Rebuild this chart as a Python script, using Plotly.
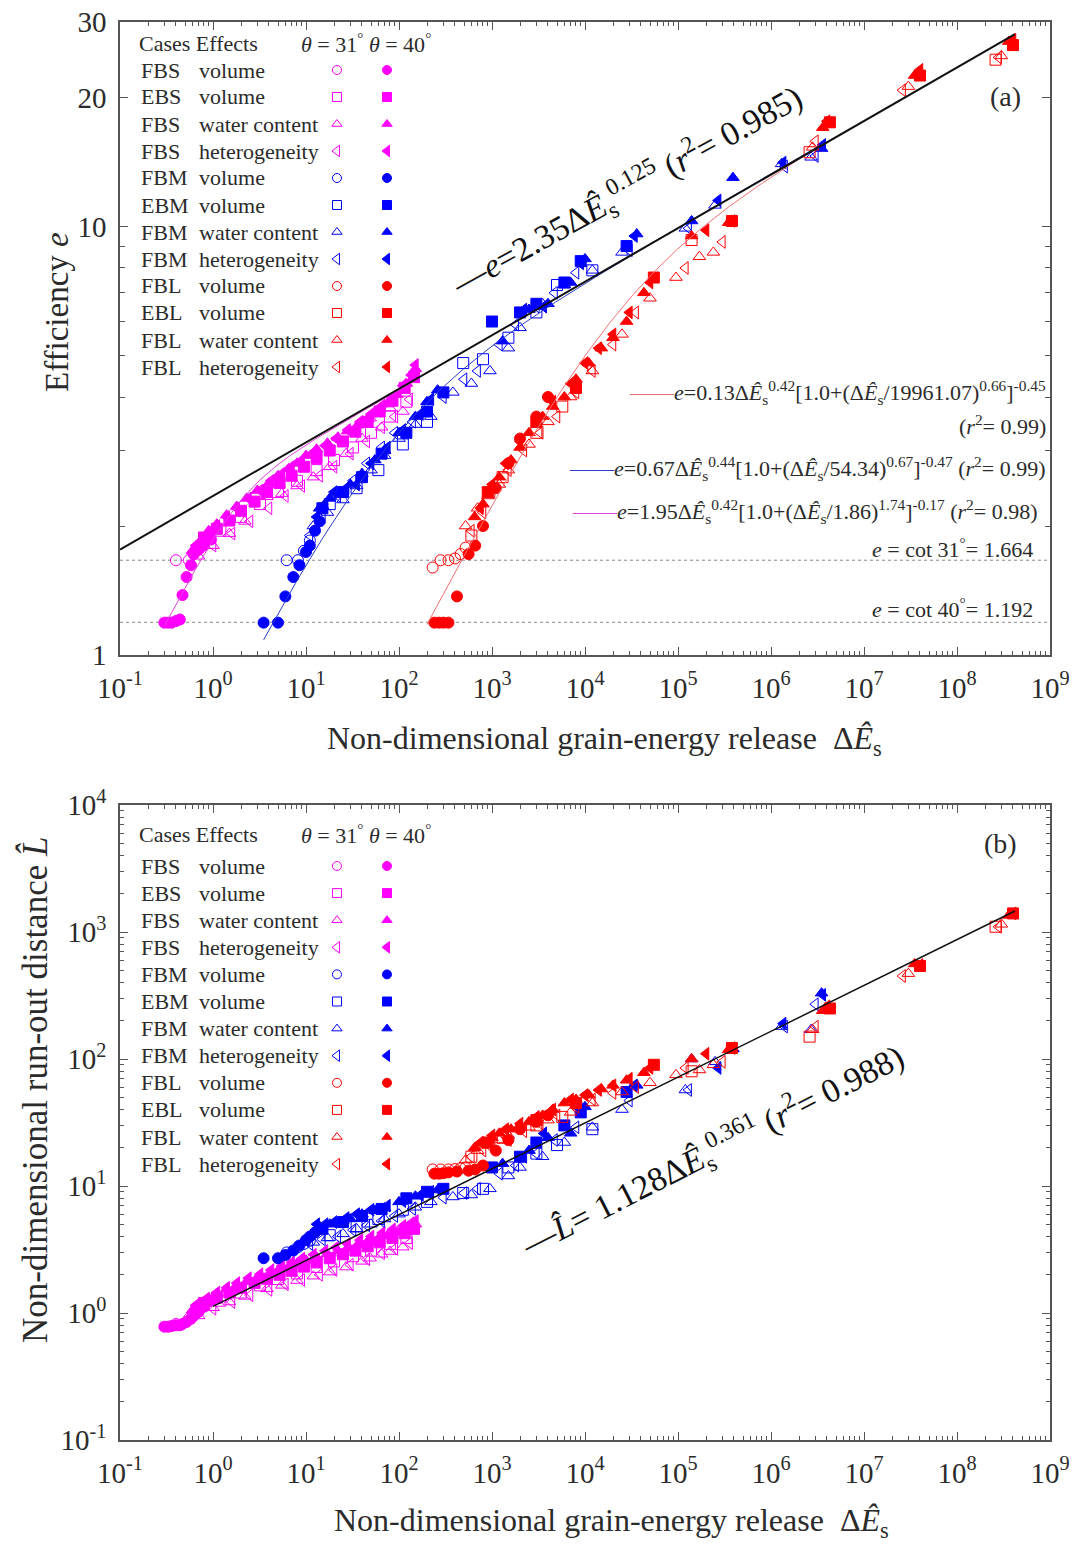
import numpy as np
import plotly.graph_objects as go

W, H = 1076, 1553

# ---------------- DATA ----------------
# x = non-dimensional grain-energy release, e = efficiency (panel a), L = run-out (panel b)
# Magenta: FBS / EBS
S_vol31_x = [0.40, 0.55, 0.62, 0.70, 0.85]
S_vol31_e = [1.664, 1.664, 1.72, 1.80, 1.88]
S_vol31_L = [0.82, 0.90, 0.95, 1.05, 1.15]
S_vol40_x = [0.30, 0.33, 0.36, 0.40, 0.44, 0.47, 0.52, 0.58, 0.62, 0.70, 0.80, 0.95]
S_vol40_e = [1.19, 1.19, 1.19, 1.20, 1.21, 1.38, 1.52, 1.62, 1.72, 1.76, 1.80, 1.86]
S_vol40_L = [0.78, 0.78, 0.79, 0.80, 0.80, 0.82, 0.85, 0.90, 0.95, 1.02, 1.12, 1.25]
S_ebs31_x = [1.2, 2.0, 3.2, 5, 8, 13, 20, 32, 50, 80, 120]
S_ebs31_e = [1.95, 2.10, 2.25, 2.40, 2.55, 2.70, 2.85, 3.05, 3.30, 3.60, 3.90]
S_ebs31_L = [1.25, 1.45, 1.65, 1.85, 2.05, 2.30, 2.55, 2.80, 3.10, 3.50, 3.90]
S_ebs40_x = [0.8, 1.1, 1.5, 2.0, 2.8, 3.8, 5.2, 7, 9.5, 13, 18, 25, 34, 46, 62, 85, 115, 145]
S_ebs40_e = [1.88, 1.97, 2.06, 2.17, 2.28, 2.40, 2.52, 2.62, 2.75, 2.88, 3.00, 3.15, 3.32, 3.50, 3.70, 3.92, 4.20, 4.45]
S_ebs40_L = [1.20, 1.32, 1.45, 1.58, 1.72, 1.86, 2.00, 2.15, 2.32, 2.50, 2.70, 2.90, 3.10, 3.35, 3.60, 3.90, 4.25, 4.60]
S_wat31_x = [0.7, 1.0, 1.5, 2.2, 3.8, 5.5, 8, 12, 18, 27, 40, 49, 65, 80, 110]
S_wat31_e = [1.70, 1.80, 1.92, 2.05, 2.34, 2.38, 2.48, 2.60, 2.75, 2.95, 3.20, 3.57, 3.40, 3.77, 3.70]
S_wat31_L = [0.95, 1.10, 1.22, 1.35, 1.55, 1.65, 1.80, 1.95, 2.10, 2.30, 2.55, 2.70, 2.90, 3.05, 3.30]
S_wat40_x = [0.6, 0.75, 0.9, 1.1, 1.4, 1.8, 2.3, 3, 4, 5, 6.5, 8, 10, 13, 17, 22, 28, 36, 46, 60, 75, 95, 120, 150]
S_wat40_e = [1.75, 1.86, 1.95, 2.02, 2.12, 2.22, 2.32, 2.42, 2.52, 2.62, 2.72, 2.80, 2.92, 3.02,
             3.12, 3.22, 3.33, 3.44, 3.56, 3.70, 3.85, 4.05, 4.30, 4.65]
S_wat40_L = [1.05, 1.18, 1.30, 1.42, 1.55, 1.66, 1.77, 1.90, 2.02, 2.15, 2.30, 2.45, 2.60, 2.75,
             2.92, 3.08, 3.25, 3.45, 3.65, 3.85, 4.05, 4.35, 4.65, 5.00]
S_het31_x = [1.0, 1.6, 2.5, 4, 6, 9, 14, 20, 30, 45, 65, 90, 130]
S_het31_e = [1.80, 1.92, 2.05, 2.20, 2.35, 2.48, 2.62, 2.75, 2.95, 3.15, 3.40, 3.60, 3.95]
S_het31_L = [1.08, 1.22, 1.38, 1.52, 1.68, 1.82, 2.00, 2.18, 2.40, 2.65, 2.95, 3.20, 3.55]
S_het40_x = [0.65, 0.85, 1.1, 1.4, 1.8, 2.4, 3.2, 4.2, 5.5, 7, 9, 12, 16, 21, 28, 38, 50, 66, 85, 110, 135, 150]
S_het40_e = [1.80, 1.90, 2.00, 2.10, 2.20, 2.32, 2.42, 2.55, 2.65, 2.75, 2.85, 2.97, 3.08, 3.20,
             3.35, 3.50, 3.65, 3.82, 4.00, 4.25, 4.50, 4.75]
S_het40_L = [1.15, 1.30, 1.45, 1.58, 1.72, 1.88, 2.02, 2.18, 2.35, 2.50, 2.68, 2.88, 3.08, 3.28,
             3.50, 3.75, 4.00, 4.28, 4.55, 4.85, 5.10, 5.30]

# Blue: FBM / EBM
M_vol31_x = [6.2, 8.2, 9.5, 11]
M_vol31_e = [1.664, 1.664, 1.75, 1.85]
M_vol31_L = [3.0, 3.3, 3.5, 3.7]
M_vol40_x = [3.5, 5.0, 6.0, 7.3, 8.5, 10, 11, 12.5, 14]
M_vol40_e = [1.19, 1.19, 1.37, 1.52, 1.62, 1.74, 1.80, 1.95, 2.05]
M_vol40_L = [2.70, 2.70, 2.86, 3.10, 3.40, 3.75, 4.00, 4.30, 4.60]
M_ebm31_x = [18, 35, 60, 110, 200, 490, 800, 1500, 3000, 5000, 12000]
M_ebm31_e = [2.25, 2.45, 2.70, 3.10, 3.50, 4.80, 4.90, 5.50, 6.30, 7.30, 7.90]
M_ebm31_L = [4.1, 4.8, 5.5, 6.5, 7.5, 8.8, 9.5, 14, 18, 21, 28]
M_ebm40_x = [15, 25, 40, 65, 120, 200, 300, 1000, 2000, 3000, 6000, 9000, 28000]
M_ebm40_e = [2.20, 2.40, 2.60, 2.95, 3.30, 3.70, 4.10, 6.00, 6.30, 6.60, 7.40, 8.30, 9.00]
M_ebm40_L = [4.6, 5.2, 5.8, 6.6, 8.0, 9.0, 9.5, 14, 17, 22, 30, 38, 55]
M_wat31_x = [12, 17, 25, 35, 50, 70, 100, 150, 220, 380, 600, 950, 1500, 2000, 3500, 6000,
             12000, 25000, 120000, 250000, 1.3e6, 2.7e6]
M_wat31_e = [2.00, 2.15, 2.30, 2.48, 2.70, 2.92, 3.20, 3.45, 3.60, 4.10, 4.30, 4.60, 5.20, 5.80,
             6.60, 7.30, 7.90, 8.70, 9.90, 11.2, 14.0, 14.5]
M_wat31_L = [3.6, 3.9, 4.2, 4.6, 5.0, 5.5, 6.0, 6.8, 7.5, 8.2, 8.5, 9.5, 12, 14, 17, 22, 29, 40,
             57, 95, 180, 170]
M_wat40_x = [14, 18, 24, 30, 40, 55, 70, 100, 150, 200, 260, 1300, 2500, 4000, 7000, 10000,
             36000, 140000, 390000, 3.5e6]
M_wat40_e = [2.20, 2.32, 2.40, 2.50, 2.65, 2.85, 3.00, 3.30, 3.60, 3.90, 4.15, 5.40, 6.40, 6.60,
             7.40, 8.40, 9.60, 10.3, 13.0, 15.2]
M_wat40_L = [4.8, 5.0, 5.2, 5.5, 6.0, 6.4, 6.7, 7.5, 8.3, 8.9, 9.3, 15, 19, 24, 26, 42, 62, 100,
             120, 330]
M_het31_x = [11, 15, 22, 32, 45, 65, 90, 140, 300, 500, 700, 1200, 1800, 3000, 4700, 8000,
             30000, 130000, 1.4e6, 3.0e6]
M_het31_e = [1.90, 2.10, 2.35, 2.55, 2.80, 3.05, 3.30, 3.50, 4.00, 4.40, 4.60, 5.30, 5.90, 6.50,
             7.00, 7.80, 8.80, 9.90, 13.8, 14.6]
M_het31_L = [3.5, 3.8, 4.0, 4.5, 4.9, 5.3, 5.8, 6.6, 8.1, 8.8, 9.5, 12.5, 14.5, 18, 23, 29, 47,
             57, 180, 270]
M_het40_x = [13, 16, 20, 27, 35, 50, 75, 110, 170, 220, 2200, 3600, 9000, 34000, 270000, 1.35e6, 3.6e6]
M_het40_e = [2.10, 2.25, 2.40, 2.45, 2.50, 2.80, 3.05, 3.35, 3.65, 3.95, 6.40, 6.50, 8.20, 9.50,
             11.5, 14.1, 15.5]
M_het40_L = [5.0, 5.0, 5.2, 5.6, 6.0, 6.5, 7.0, 7.6, 8.5, 9.0, 17, 26, 40, 62, 85, 190, 320]

# Red: FBL / EBL
L_vol31_x = [230, 280, 340, 400, 460, 520]
L_vol31_e = [1.60, 1.664, 1.664, 1.68, 1.72, 1.78]
L_vol31_L = [13.5, 13.5, 13.5, 13.6, 13.8, 14.0]
L_vol40_x = [240, 270, 300, 340, 420, 560, 660, 800, 1100, 1500, 2000, 3000, 4000]
L_vol40_e = [1.19, 1.19, 1.19, 1.19, 1.37, 1.72, 1.80, 2.00, 2.45, 2.80, 3.20, 3.60, 4.00]
L_vol40_L = [12.5, 12.5, 12.6, 12.8, 13.0, 13.2, 13.5, 14.5, 19, 23, 28, 32, 36]
L_ebl31_x = [600, 1300, 3000, 5700, 140000, 2.6e6, 2.6e8]
L_ebl31_e = [1.90, 2.60, 3.30, 3.80, 9.30, 14.9, 24.5]
L_ebl31_L = [17, 24, 30, 35, 80, 150, 1100]
L_ebl40_x = [900, 3000, 8000, 55000, 380000, 4.3e6, 4.0e7, 4.0e8]
L_ebl40_e = [2.40, 3.50, 4.20, 7.60, 10.3, 17.5, 22.5, 26.5]
L_ebl40_L = [22, 33, 45, 90, 122, 250, 540, 1400]
L_wat31_x = [520, 700, 900, 1200, 1500, 2500, 4000, 7000, 12000, 25000, 50000, 95000, 170000,
             240000, 2.8e6, 3.0e7, 3.0e8]
L_wat31_e = [2.00, 2.20, 2.35, 2.50, 2.70, 3.10, 3.50, 4.00, 4.60, 5.60, 6.80, 7.60, 8.50, 8.70,
             15.3, 21.2, 25.0]
L_wat31_L = [16, 19, 21, 23, 25, 29, 33, 38, 45, 55, 65, 75, 82, 90, 170, 470, 1150]
L_wat40_x = [650, 800, 1000, 1200, 1600, 2000, 2500, 3500, 4500, 6000, 8000, 11000, 15000,
             20000, 28000, 43000, 140000, 350000, 3.6e6, 3.5e7, 3.6e8]
L_wat40_e = [2.10, 2.25, 2.45, 2.60, 2.85, 3.05, 3.30, 3.60, 3.80, 4.00, 4.40, 4.80, 5.20, 5.50,
             6.00, 7.00, 9.50, 10.2, 17.0, 22.5, 27.0]
L_wat40_L = [20, 22, 24, 26, 28, 30, 32, 36, 40, 45, 48, 52, 58, 62, 68, 78, 100, 118, 240, 560, 1350]
L_het31_x = [600, 800, 1000, 1500, 2200, 3300, 5000, 8000, 12000, 20000, 35000, 120000, 300000,
             3.0e6, 2.6e7, 2.8e8]
L_het31_e = [1.95, 2.15, 2.40, 2.70, 3.00, 3.30, 3.60, 4.10, 4.60, 5.30, 6.30, 8.00, 9.20, 15.8,
             20.8, 24.8]
L_het31_L = [17, 19, 20, 23, 27, 31, 36, 42, 48, 54, 60, 85, 95, 180, 450, 1100]
L_het40_x = [750, 1000, 1400, 2000, 3000, 4500, 7000, 10000, 14000, 20000, 30000, 50000, 200000,
             380000, 4.0e6, 4.0e7, 4.0e8]
L_het40_e = [2.20, 2.50, 2.80, 3.15, 3.50, 3.90, 4.30, 4.80, 5.20, 5.60, 6.30, 7.40, 9.80, 10.3,
             17.6, 23.2, 27.3]
L_het40_L = [22, 25, 28, 31, 35, 40, 48, 52, 57, 62, 70, 85, 110, 122, 260, 550, 1400]

# Legend table
cases = ["FBS", "EBS", "FBS", "FBS", "FBM", "EBM", "FBM", "FBM", "FBL", "EBL", "FBL", "FBL"]
effects = ["volume", "volume", "water content", "heterogeneity"] * 3
row_colors = ["#FF00FF"] * 4 + ["#0000FF"] * 4 + ["#FF0000"] * 4
row_symbols = ["circle", "square", "triangle-up", "triangle-left"] * 3

# Fits
fit_a = (2.35, 0.125)          # e = a*E^b
fit_b = (1.128, 0.361)         # L = a*E^b
fit_S = (1.95, 0.42, 1.86, 1.74, -0.17)
fit_M = (0.67, 0.44, 54.34, 0.67, -0.47)
fit_L = (0.13, 0.42, 19961.07, 0.66, -0.45)
fit_S_range = (0.3, 150)
fit_M_range = (3.5, 3.6e6)
fit_L_range = (200, 4.0e6)
fit_a_range = (0.1, 4.2e8)
fit_b_range = (1.0, 4.2e8)
cot31, cot40 = 1.664, 1.192
x_axis_range = (0.1, 1e9)

# ---------------- FIGURE ----------------
MAG, BLU, RED = "#FF00FF", "#0000FF", "#FF0000"
series = [
    (MAG, "circle", S_vol31_x, S_vol31_e, S_vol31_L, True),
    (MAG, "circle", S_vol40_x, S_vol40_e, S_vol40_L, False),
    (MAG, "square", S_ebs31_x, S_ebs31_e, S_ebs31_L, True),
    (MAG, "square", S_ebs40_x, S_ebs40_e, S_ebs40_L, False),
    (MAG, "triangle-up", S_wat31_x, S_wat31_e, S_wat31_L, True),
    (MAG, "triangle-up", S_wat40_x, S_wat40_e, S_wat40_L, False),
    (MAG, "triangle-left", S_het31_x, S_het31_e, S_het31_L, True),
    (MAG, "triangle-left", S_het40_x, S_het40_e, S_het40_L, False),
    (BLU, "circle", M_vol31_x, M_vol31_e, M_vol31_L, True),
    (BLU, "circle", M_vol40_x, M_vol40_e, M_vol40_L, False),
    (BLU, "square", M_ebm31_x, M_ebm31_e, M_ebm31_L, True),
    (BLU, "square", M_ebm40_x, M_ebm40_e, M_ebm40_L, False),
    (BLU, "triangle-up", M_wat31_x, M_wat31_e, M_wat31_L, True),
    (BLU, "triangle-up", M_wat40_x, M_wat40_e, M_wat40_L, False),
    (BLU, "triangle-left", M_het31_x, M_het31_e, M_het31_L, True),
    (BLU, "triangle-left", M_het40_x, M_het40_e, M_het40_L, False),
    (RED, "circle", L_vol31_x, L_vol31_e, L_vol31_L, True),
    (RED, "circle", L_vol40_x, L_vol40_e, L_vol40_L, False),
    (RED, "square", L_ebl31_x, L_ebl31_e, L_ebl31_L, True),
    (RED, "square", L_ebl40_x, L_ebl40_e, L_ebl40_L, False),
    (RED, "triangle-up", L_wat31_x, L_wat31_e, L_wat31_L, True),
    (RED, "triangle-up", L_wat40_x, L_wat40_e, L_wat40_L, False),
    (RED, "triangle-left", L_het31_x, L_het31_e, L_het31_L, True),
    (RED, "triangle-left", L_het40_x, L_het40_e, L_het40_L, False),
]

fig = go.Figure()

# dotted reference lines (panel a)
for cv in (cot31, cot40):
    fig.add_trace(go.Scatter(x=list(x_axis_range), y=[cv, cv], mode="lines",
                             line=dict(color="#8a8a8a", width=1, dash="dot"),
                             xaxis="x", yaxis="y", showlegend=False, hoverinfo="skip"))

for col, sym, xs, es, Ls, is_open in series:
    mk = dict(symbol=sym + ("-open" if is_open else ""), size=11, color=col,
              line=dict(color=col, width=1))
    fig.add_trace(go.Scatter(x=xs, y=es, mode="markers", marker=mk,
                             xaxis="x", yaxis="y", showlegend=False))
    fig.add_trace(go.Scatter(x=xs, y=Ls, mode="markers", marker=mk,
                             xaxis="x2", yaxis="y2", showlegend=False))


def bpl(x, p):
    a, b, c, d, g = p
    return a * x ** b * (1.0 + (x / c) ** d) ** g


for p, rng, col in ((fit_S, fit_S_range, "#E040E0"), (fit_M, fit_M_range, "#2A3FC8"),
                    (fit_L, fit_L_range, "#F07070")):
    xx = np.logspace(np.log10(rng[0]), np.log10(rng[1]), 300)
    fig.add_trace(go.Scatter(x=xx, y=bpl(xx, p), mode="lines",
                             line=dict(color=col, width=1), xaxis="x", yaxis="y",
                             showlegend=False, hoverinfo="skip"))

xa = np.logspace(np.log10(fit_a_range[0]), np.log10(fit_a_range[1]), 50)
fig.add_trace(go.Scatter(x=xa, y=fit_a[0] * xa ** fit_a[1], mode="lines",
                         line=dict(color="#111", width=2), xaxis="x", yaxis="y",
                         showlegend=False))
xb = np.logspace(np.log10(fit_b_range[0]), np.log10(fit_b_range[1]), 50)
fig.add_trace(go.Scatter(x=xb, y=fit_b[0] * xb ** fit_b[1], mode="lines",
                         line=dict(color="#111", width=1.5), xaxis="x2", yaxis="y2",
                         showlegend=False))

# legend-table markers (overlay axes, row index as y)
for xaxis_id, yaxis_id in (("x3", "y3"), ("x4", "y4")):
    for i in range(len(cases)):
        for col_x, is_open in ((0.2333, True), (0.2871, False)):
            fig.add_trace(go.Scatter(
                x=[col_x], y=[i], mode="markers", xaxis=xaxis_id, yaxis=yaxis_id,
                marker=dict(symbol=row_symbols[i] + ("-open" if is_open else ""),
                            size=9 if row_symbols[i] != "triangle-left" else 10,
                            color=row_colors[i], line=dict(color=row_colors[i], width=1)),
                showlegend=False, hoverinfo="skip"))

FONT = "Liberation Serif"
TXT = "#2b2b2b"
xdom = [120 / W, 1050 / W]
ydom_a = [1 - 655 / H, 1 - 22 / H]
ydom_b = [1 - 1440 / H, 1 - 805 / H]

dec = [10.0 ** k for k in range(-1, 10)]
dec_txt = ["10<sup>%d</sup>" % k for k in range(-1, 10)]
minor_x = [m * 10.0 ** k for k in range(-1, 9) for m in range(2, 10)]
minor_yb = [m * 10.0 ** k for k in range(-1, 4) for m in range(2, 10)]
minor_ya = [2, 3, 4, 5, 6, 7, 8, 9]

ax_common = dict(type="log", showgrid=False, zeroline=False, showline=True,
                 linecolor="#555", linewidth=1.5, mirror="ticks", ticks="inside",
                 ticklen=8, tickwidth=1, tickcolor="#555",
                 tickfont=dict(family=FONT, size=29, color=TXT), automargin=False)

fig.update_layout(
    width=W, height=H, margin=dict(l=0, r=0, t=0, b=0),
    paper_bgcolor="white", plot_bgcolor="rgba(0,0,0,0)",
    font=dict(family=FONT, color=TXT),
    xaxis=dict(ax_common, domain=xdom, range=[-1, 9], anchor="y",
               tickvals=dec, ticktext=dec_txt, ticklabelstandoff=6,
               minor=dict(tickvals=minor_x, ticks="inside", ticklen=4, tickcolor="#555")),
    yaxis=dict(ax_common, domain=ydom_a, range=[0, np.log10(30)], anchor="x",
               tickvals=[1, 10, 20, 30], ticktext=["1", "10", "20", "30"],
               ticklabelstandoff=6,
               minor=dict(tickvals=minor_ya, ticks="inside", ticklen=5, tickcolor="#555")),
    xaxis2=dict(ax_common, domain=xdom, range=[-1, 9], anchor="y2",
                tickvals=dec, ticktext=dec_txt, ticklabelstandoff=6,
                minor=dict(tickvals=minor_x, ticks="inside", ticklen=4, tickcolor="#555")),
    yaxis2=dict(ax_common, domain=ydom_b, range=[-1, 4], anchor="x2",
                tickvals=[10.0 ** k for k in range(-1, 5)],
                ticktext=["10<sup>%d</sup>" % k for k in range(-1, 5)],
                ticklabelstandoff=6,
                minor=dict(tickvals=minor_yb, ticks="inside", ticklen=4, tickcolor="#555")),
    xaxis3=dict(overlaying="x", range=[0, 1], visible=False, anchor="y3"),
    yaxis3=dict(overlaying="y", range=[21.667, -1.778], visible=False, anchor="x3"),
    xaxis4=dict(overlaying="x2", range=[0, 1], visible=False, anchor="y4"),
    yaxis4=dict(overlaying="y2", range=[21.18, -2.25], visible=False, anchor="x4"),
    showlegend=False,
)

ann = []


def A(text, px, py, size=20, xanchor="left", angle=0, color=TXT):
    ann.append(dict(text=text, x=px / W, y=1 - py / H, xref="paper", yref="paper",
                    xanchor=xanchor, yanchor="middle", showarrow=False,
                    textangle=angle, font=dict(family=FONT, size=size, color=color)))


Es = "Δ<i>Ê</i><sub>s</sub>"

# axis titles
A("Non-dimensional grain-energy release  " + Es, 604, 740, 32, "center")
A("Efficiency <i>e</i>", 57, 312, 33, "center", -90)
A("Non-dimensional grain-energy release  " + Es, 611, 1522, 32, "center")
A("Non-dimensional run-out distance <i>L\u0302</i>", 35, 1090, 35, "center", -90)

# panel labels
A("(a)", 1005, 97, 28, "center")
A("(b)", 1000, 843, 28, "center")

# legend tables
for top_hdr, row0, step in ((43, 70, 27.0), (834, 866, 27.1)):
    A("Cases Effects", 137, top_hdr, 22)
    A("<i>θ</i> = 31<sup>°</sup> <i>θ</i> = 40<sup>°</sup>", 299, top_hdr, 22)
    for i in range(len(cases)):
        y = row0 + step * i
        A(cases[i], 139, y, 22)
        A(effects[i], 197, y, 22)

# fit annotations (panel a)
A("—<i>e</i>=2.35" + Es + "<sup>0.125</sup> (<i>r</i><sup>2</sup>= 0.985)",
  626, 190, 34, "center", -29, "#111")
A('<span style="color:#F07070">——</span><i>e</i>=0.13' + Es + "<sup>0.42</sup>[1.0+(" + Es +
  "/19961.07)<sup>0.66</sup>]<sup>-0.45</sup>", 1048, 393, 22, "right")
A("(<i>r</i><sup>2</sup>= 0.99)", 1048, 425, 22, "right")
A('<span style="color:#2A3FC8">——</span><i>e</i>=0.67' + Es + "<sup>0.44</sup>[1.0+(" + Es +
  "/54.34)<sup>0.67</sup>]<sup>-0.47</sup> (<i>r</i><sup>2</sup>= 0.99)", 1048, 468, 22, "right")
A('<span style="color:#E040E0">——</span><i>e</i>=1.95' + Es + "<sup>0.42</sup>[1.0+(" + Es +
  "/1.86)<sup>1.74</sup>]<sup>-0.17</sup> (<i>r</i><sup>2</sup>= 0.98)", 1040, 512, 22, "right")
A("<i>e</i> = cot 31<sup>°</sup>= 1.664", 1035, 548, 22, "right")
A("<i>e</i> = cot 40<sup>°</sup>= 1.192", 1035, 608, 22, "right")

# fit annotation (panel b)
A("—<i>L\u0302</i>= 1.128" + Es + "<sup>0.361</sup> (<i>r</i><sup>2</sup>= 0.988)",
  712, 1150, 34, "center", -27, "#111")

fig.update_layout(annotations=ann)
fig.write_html("out.html", config={"displayModeBar": False},
               post_script="document.body.style.margin='0px';")
